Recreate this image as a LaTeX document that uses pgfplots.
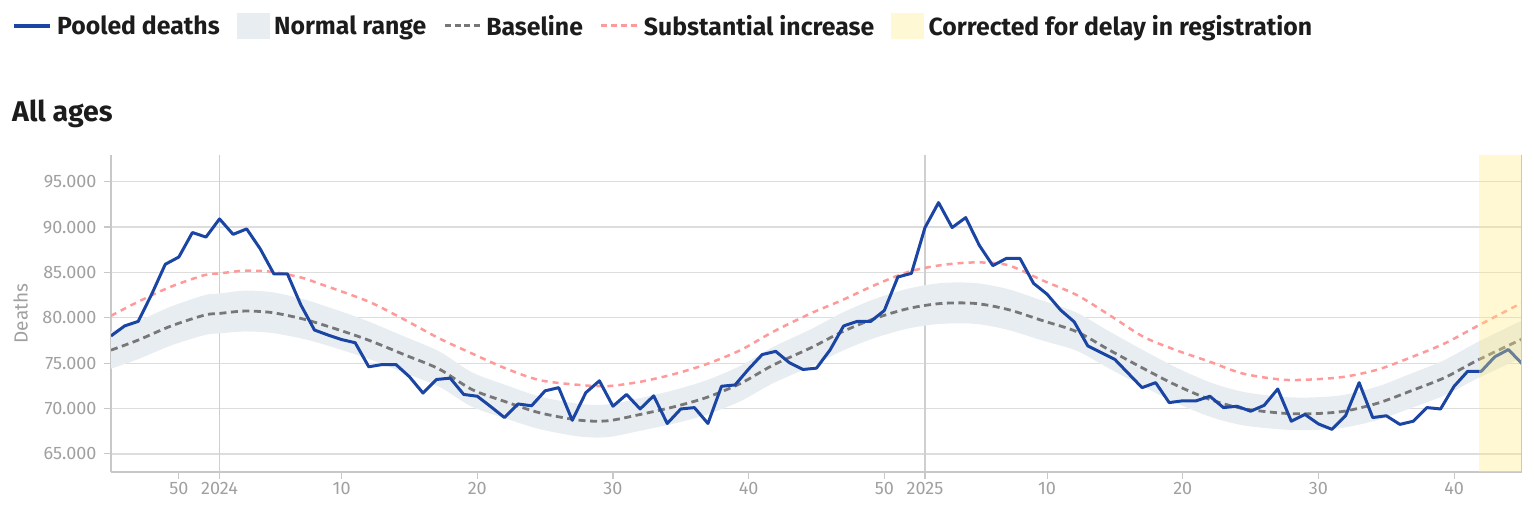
\documentclass[border=0pt]{standalone}
\usepackage{pgfplots}
\pgfplotsset{compat=1.18}
\usepackage{pgfplotstable}
\usepgfplotslibrary{fillbetween}
\usepackage{fontspec}
\setmainfont{Fira Sans}

\definecolor{pooled}{HTML}{1A45A3}
\definecolor{bandcol}{HTML}{E8EDF2}
\definecolor{basecol}{HTML}{777777}
\definecolor{redcol}{HTML}{FF9A9A}
\definecolor{yelover}{HTML}{FFEB82}
\definecolor{yellegend}{HTML}{FFF8D4}
\definecolor{gridcol}{HTML}{DDDDDD}
\definecolor{vgridcol}{HTML}{CFCFCF}
\definecolor{axiscol}{HTML}{C8C8C8}
\definecolor{tickcol}{HTML}{A0A0A0}
\definecolor{textcol}{HTML}{1C1C1C}

% t: weeks counted from ISO week 1 of 2024 (t=0); 2025 week 1 is t=52
\pgfplotstableread{
t     base   red    lo     hi
-8    76440  80220  74390  78490
-6    77540  81770  75440  79640
-3.6  79080  83420  76930  81230
-1.1  80300  84710  78100  82500
0     80480  84890  78280  82680
1.8   80740  85190  78490  82990
3.8   80590  85080  78340  82840
6     79930  84450  77730  82130
7.3   79380  83790  77230  81530
9.6   78270  82580  76170  80370
11.3  77355  81580  75305  79405
13.7  75885  79745  73885  77885
16.2  74341  77723  72391  76291
18.6  72099  76069  70199  73999
21.1  70738  74414  68888  72588
23.6  69525  73128  67725  71325
26.5  68717  72600  66917  70517
28.6  68643  72466  66843  70443
31.0  69342  72944  67542  71142
33.5  70187  73790  68337  72037
35.9  71216  74897  69316  73116
38.4  72760  76436  70810  74710
40.8  74782  78458  72782  76782
43.6  76700  80500  74650  78750
45.9  78458  81950  76358  80558
48.3  79928  83604  77778  82078
50.8  81031  85075  78831  83231
53.2  81583  85810  79333  83833
55.7  81583  86104  79333  83833
58.1  80921  85810  78671  83171
60.7  79671  84100  77471  81871
63.2  78458  82502  76358  80558
65.6  76436  80296  74386  78486
68.1  74414  77907  72414  76414
70.5  72576  76436  70626  74526
73.0  70996  75150  69096  72896
75.4  70003  73863  68153  71853
78.3  69490  73180  67690  71290
80.5  69420  73201  67620  71220
82.9  69700  73495  67900  71500
85.4  70600  74304  68750  72450
87.8  71930  75627  70030  73830
90.3  73400  77171  71450  75350
92.7  75300  79083  73300  77300
96    77650  81650  75600  79700
}\refcurves

\pgfplotstableread{
t d
-8 78000
-7 79100
-6 79600
-5 82600
-4 85900
-3 86700
-2 89400
-1 88900
0 90900
1 89200
2 89800
3 87600
4 84850
5 84850
6 81400
7 78650
8 78100
9 77600
10 77250
11 74600
12 74850
13 74850
14 73500
15 71700
16 73200
17 73350
18 71550
19 71350
20 70200
21 69000
22 70500
23 70300
24 71950
25 72300
26 68700
27 71750
28 73050
29 70250
30 71550
31 69950
32 71400
33 68350
34 69950
35 70100
36 68350
37 72450
38 72600
39 74350
40 75950
41 76300
42 75050
43 74300
44 74450
45 76450
46 79100
47 79600
48 79600
49 80800
50 84500
51 84900
52 89950
53 92700
54 89950
55 91050
56 88000
57 85750
58 86550
59 86550
60 83800
61 82600
62 80850
63 79550
64 76900
65 76150
66 75400
67 73850
68 72300
69 72850
70 70650
71 70850
72 70850
73 71350
74 70100
75 70250
76 69700
77 70350
78 72150
79 68600
80 69350
81 68300
82 67700
83 69200
84 72850
85 69000
86 69200
87 68250
88 68600
89 70100
90 69950
91 72450
92 74100
93 74100
94 75700
95 76500
96 74950
}\pooleddata

\begin{document}
\begin{tikzpicture}
\path (0pt,0pt) rectangle (1534pt,510pt);
\node[anchor=base west, inner sep=0pt, text=textcol,
      font=\fontsize{28.5}{33}\selectfont\bfseries] at (12pt,388pt) {All ages};
\begin{axis}[
  at={(111pt,38pt)}, anchor=south west,
  width=1411pt, height=317pt, scale only axis,
  xmin=-8, xmax=96, ymin=63000, ymax=97950,
  axis x line*=bottom, axis y line*=left,
  axis line style={draw=axiscol, line width=1.2pt, -},
  xtick={-3,0,9,19,29,39,49,52,61,71,81,91},
  xticklabels={50,2024,10,20,30,40,50,2025,10,20,30,40},
  ytick={65000,70000,75000,80000,85000,90000,95000},
  scaled y ticks=false,
  yticklabel style={xshift=-4pt, /pgf/number format/.cd, fixed, precision=0, 1000 sep={.}},
  /pgf/number format/assume math mode=true,
  tick label style={font=\fontsize{18}{20}\selectfont, text=tickcol},
  tick align=outside, major tick length=7pt,
  tick style={draw=axiscol, line width=1.2pt},
  ymajorgrids, grid style={draw=gridcol, line width=1.3pt},
  extra x ticks={0,52}, extra x tick labels={},
  extra x tick style={grid=major, major grid style={draw=vgridcol, line width=1.3pt}},
  ylabel={Deaths},
  ylabel style={at={(axis description cs:-0.0641,0.5)}, anchor=center, text=tickcol,
                font=\fontsize{19}{22}\selectfont},
  legend columns=-1,
  legend style={at={(axis description cs:-0.0702,1.4069)}, anchor=west,
    draw=none, fill=none, inner sep=0pt, text=textcol,
    font=\fontsize{24.8}{29}\selectfont\bfseries,
    /tikz/every odd column/.append style={column sep=3pt},
    /tikz/every even column/.append style={column sep=15pt}},
]
\addlegendimage{legend image code/.code={\draw[pooled, line width=4pt] (0pt,0pt) -- (36pt,0pt);}}
\addlegendentry{Pooled deaths}
\addlegendimage{legend image code/.code={\fill[bandcol] (0pt,-12.5pt) rectangle (32pt,12.5pt);}}
\addlegendentry{Normal range}
\addlegendimage{legend image code/.code={\draw[basecol, line width=3pt, dash pattern=on 6pt off 3.7pt] (0pt,0pt) -- (35pt,0pt);}}
\addlegendentry{Baseline}
\addlegendimage{legend image code/.code={\draw[redcol, line width=3pt, dash pattern=on 6pt off 3.7pt] (0pt,0pt) -- (36pt,0pt);}}
\addlegendentry{Substantial increase}
\addlegendimage{legend image code/.code={\fill[yellegend] (0pt,-12.5pt) rectangle (32pt,12.5pt);}}
\addlegendentry{Corrected for delay in registration}

\addplot[name path=hi, draw=none, smooth, forget plot] table[x=t, y=hi]{\refcurves};
\addplot[name path=lo, draw=none, smooth, forget plot] table[x=t, y=lo]{\refcurves};
\addplot[bandcol, forget plot] fill between[of=hi and lo];
\addplot[basecol, line width=2.8pt, dash pattern=on 7pt off 4.5pt, smooth, forget plot] table[x=t, y=base]{\refcurves};
\addplot[redcol, line width=2.5pt, dash pattern=on 6pt off 5pt, smooth, forget plot] table[x=t, y=red]{\refcurves};
\addplot[pooled, line width=3pt, line join=round, forget plot] table[x=t, y=d]{\pooleddata};
\addplot[draw=none, fill=yelover, fill opacity=0.35, forget plot] coordinates {(92.85,63000) (96,63000) (96,97950) (92.85,97950) (92.85,63000)};
\addplot[axiscol, line width=1.2pt, forget plot] coordinates {(96,63000) (96,97950)};
\end{axis}
\end{tikzpicture}
\end{document}
